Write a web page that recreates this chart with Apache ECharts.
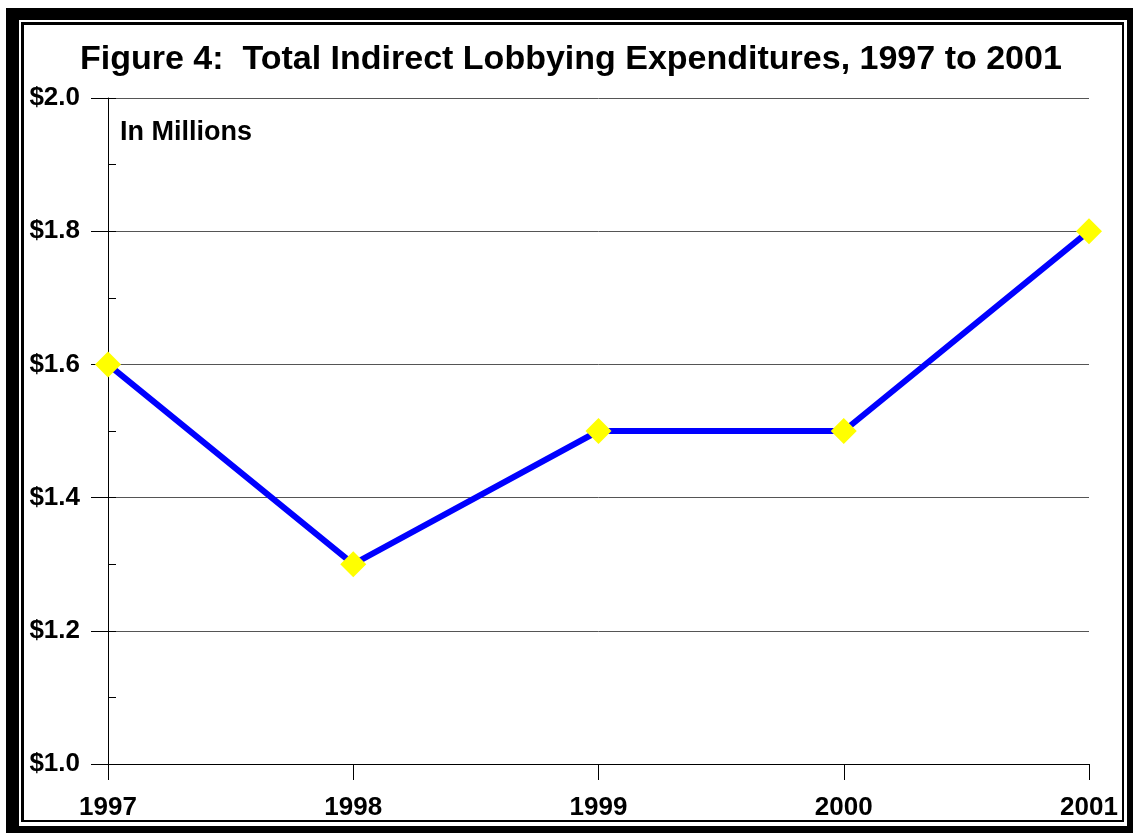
<!DOCTYPE html>
<html>
<head>
<meta charset="utf-8">
<script src="https://cdn.jsdelivr.net/npm/echarts@6/dist/echarts.min.js"></script>
<style>
  html, body { margin: 0; padding: 0; background: #fff; }
  #main { width: 1133px; height: 833px; }
</style>
</head>
<body>
<div id="main"></div>
<script>
// 数据
var years = ['1997', '1998', '1999', '2000', '2001'];
var spending = [1.6, 1.3, 1.5, 1.5, 1.8];   // in millions
var yMin = 1.0, yMax = 2.0, yStep = 0.2, yMinorStep = 0.1;

var chart = echarts.init(document.getElementById('main'));
var font = '"Liberation Sans", Arial, sans-serif';

var option = {
    animation: false,
    title: {
        text: 'Figure 4:  Total Indirect Lobbying Expenditures, 1997 to 2001',
        left: 75,
        top: 38,
        textStyle: { fontFamily: font, fontSize: 34, fontWeight: 'bold', color: '#000' }
    },
    grid: { left: 108, right: 44, top: 98, bottom: 69 },
    graphic: [
        // frame: thick black, white gap, thin black line
        { type: 'rect', z: -30, shape: { x: 6, y: 8, width: 1140, height: 840 }, style: { fill: '#000' } },
        { type: 'rect', z: -29, shape: { x: 19, y: 20, width: 1108, height: 806 }, style: { fill: '#fff' } },
        { type: 'rect', z: -28, shape: { x: 21, y: 22, width: 1103, height: 800 }, style: { fill: '#000' } },
        { type: 'rect', z: -27, shape: { x: 24, y: 25, width: 1098, height: 795 }, style: { fill: '#fff' } },
        {
            type: 'text', left: 120, top: 119,
            style: { text: 'In Millions', font: 'bold 27px ' + font, fill: '#000' }
        }
    ],
    xAxis: {
        type: 'category',
        data: years,
        boundaryGap: false,
        axisLine: { lineStyle: { color: '#000', width: 1 } },
        axisTick: { alignWithLabel: true, length: 16, lineStyle: { color: '#000' } },
        axisLabel: { fontFamily: font, fontSize: 26, fontWeight: 'bold', color: '#000', margin: 31 },
        splitLine: { show: false }
    },
    yAxis: [
        {
            type: 'value',
            min: yMin, max: yMax, interval: yStep,
            axisLine: { show: true, lineStyle: { color: '#000', width: 1 } },
            axisTick: { show: true, length: 17, lineStyle: { color: '#000' } },
            axisLabel: { fontFamily: font, fontSize: 26, fontWeight: 'bold', color: '#000', margin: 28,
                formatter: function (v) { return '$' + v.toFixed(1); } },
            splitLine: { show: true, lineStyle: { color: '#555', width: 1 } }
        },
        {
            // minor ticks pointing inward
            type: 'value',
            position: 'left',
            min: yMin, max: yMax, interval: yMinorStep,
            axisLine: { show: false },
            axisTick: { show: true, inside: true, length: 8, lineStyle: { color: '#000' } },
            axisLabel: { show: false },
            splitLine: { show: false }
        }
    ],
    series: [{
        type: 'line',
        data: spending,
        yAxisIndex: 0,
        lineStyle: { color: '#0000ff', width: 6 },
        symbol: 'diamond',
        symbolSize: 26,
        itemStyle: { color: '#ffff00', borderWidth: 0 },
        z: 5
    }]
};

chart.setOption(option);
</script>
</body>
</html>
